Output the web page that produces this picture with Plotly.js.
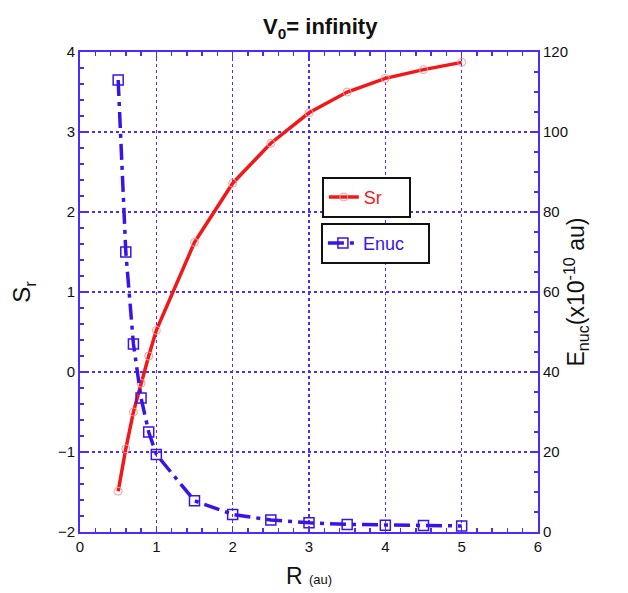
<!DOCTYPE html>
<html>
<head>
<meta charset="utf-8">
<script src="https://cdn.plot.ly/plotly-3.0.1.min.js"></script>
<style>html,body{margin:0;padding:0;background:#fff;}#chart{width:628px;height:593px;}</style>
</head>
<body>
<div id="chart"></div>
<script>
const R = [0.5, 0.6, 0.7, 0.8, 0.9, 1.0, 1.5, 2.0, 2.5, 3.0, 3.5, 4.0, 4.5, 5.0];
const Sr = [-1.49, -0.96, -0.5, -0.14, 0.2, 0.52, 1.62, 2.36, 2.86, 3.24, 3.5, 3.67, 3.78, 3.87];
const Enuc = [113, 70, 47, 33.5, 25, 19.4, 7.8, 4.4, 3.0, 2.3, 1.9, 1.7, 1.6, 1.5];

const BLUE = '#3a14e6';
const AX = '#4d2bff';
const RED = '#f21818';
const FONT = 'Liberation Sans, Arial, sans-serif';

const traces = [
  {x: R, y: Sr, name: 'Sr', type: 'scatter', mode: 'lines+markers',
   line: {color: RED, width: 3.5},
   marker: {symbol: 'circle-open', size: 8, color: '#f59a9a', line: {width: 1}},
   legend: 'legend'},
  {x: R, y: Enuc, name: 'Enuc', type: 'scatter', mode: 'lines+markers', yaxis: 'y2',
   line: {color: BLUE, width: 3.5, dash: '16px,6px,4px,6px'},
   marker: {symbol: 'square-open', size: 10, color: BLUE, line: {width: 1.5}},
   legend: 'legend2'}
];

const common = {
  showline: true, linecolor: AX, linewidth: 2,
  ticks: 'inside', ticklen: 6, tickwidth: 1.5, tickcolor: AX,
  tickfont: {family: FONT, size: 15, color: '#111'},
  zeroline: false
};

const layout = {
  width: 628, height: 593,
  margin: {l: 80, r: 90, t: 52, b: 61},
  paper_bgcolor: '#fff', plot_bgcolor: '#fff',
  font: {family: FONT, color: '#111'},
  title: {text: '<b>V<sub>0</sub>= infinity</b>', font: {family: FONT, size: 22, color: '#111'},
          x: 0.51, xanchor: 'center', y: 0.955, yanchor: 'middle'},
  xaxis: Object.assign({}, common, {
    range: [0, 6], dtick: 1, tick0: 0, mirror: 'ticks',
    showgrid: true, gridcolor: AX, gridwidth: 1.5, griddash: 'dot',
    minor: {ticks: 'inside', dtick: 0.2, ticklen: 4, tickcolor: AX, tickwidth: 1.5, showgrid: false},
    title: {text: 'R <span style="font-size:13px">(au)</span>', font: {family: FONT, size: 23, color: '#111'}, standoff: 14}
  }),
  yaxis: Object.assign({}, common, {
    range: [-2, 4], dtick: 1, tick0: 0,
    showgrid: true, gridcolor: AX, gridwidth: 1.5, griddash: 'dot',
    minor: {ticks: 'inside', dtick: 0.2, ticklen: 4, tickcolor: AX, tickwidth: 1.5, showgrid: false},
    title: {text: 'S<sub>r</sub>', font: {family: FONT, size: 24, color: '#111'}, standoff: 20}
  }),
  yaxis2: Object.assign({}, common, {
    overlaying: 'y', side: 'right',
    range: [0, 120], dtick: 20, tick0: 0, showgrid: false,
    minor: {ticks: 'inside', dtick: 5, ticklen: 4, tickcolor: AX, tickwidth: 1.5, showgrid: false},
    title: {text: 'E<sub>nuc</sub>(x10<sup>-10</sup> au)', font: {family: FONT, size: 23, color: '#111'}, standoff: 0}
  }),
  legend: {x: 0.528, y: 0.74, xanchor: 'left', yanchor: 'top', orientation: 'h', entrywidth: 40,
           bgcolor: '#fff', bordercolor: '#111', borderwidth: 2,
           font: {family: FONT, size: 18, color: RED}},
  legend2: {x: 0.526, y: 0.644, xanchor: 'left', yanchor: 'top', orientation: 'h', entrywidth: 60,
           bgcolor: '#fff', bordercolor: '#111', borderwidth: 2,
           font: {family: FONT, size: 18, color: BLUE}},
  showlegend: true
};

Plotly.newPlot('chart', traces, layout, {displayModeBar: false, staticPlot: true});
</script>
</body>
</html>
